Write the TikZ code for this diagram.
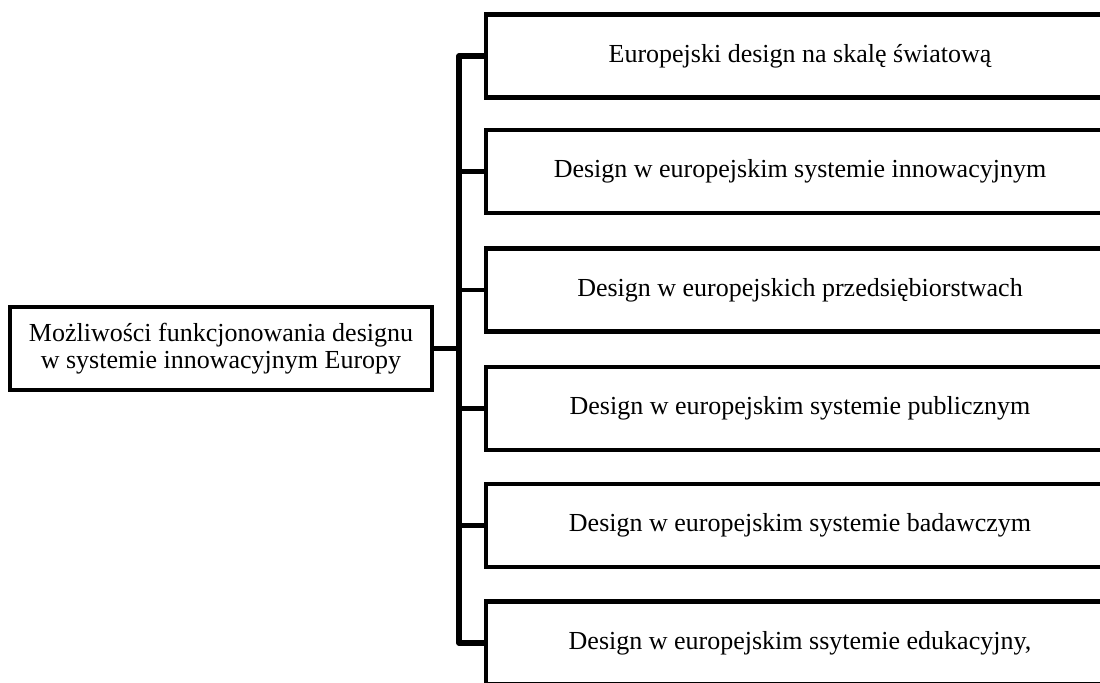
\documentclass[tikz,border=0pt]{standalone}
\usepackage{fontspec}
\setmainfont{Liberation Serif}
\usetikzlibrary{positioning}

\tikzset{
    topic/.style={draw,line width=2.2pt,rectangle,align=center,
        font=\fontsize{13}{13.6}\selectfont,inner sep=0pt},
    branch/.style={topic,minimum width=314pt,minimum height=41.5pt},
    stub/.style={line width=2.2pt},
    bar/.style={line width=2.8pt,line join=round}
}

\begin{document}
\begin{tikzpicture}[x=0.5pt,y=-0.5pt]
    \useasboundingbox (0,0) rectangle (1100,682);
    \clip (0,0) rectangle (1100,682);
    %\draw[help lines] (0,0) grid[step=100] (1100,682);
    \node[topic,minimum width=211pt,minimum height=41.5pt] (main) at (221,348.5)
        {Możliwości funkcjonowania designu\\w systemie innowacyjnym Europy};
    \coordinate (barx) at (459,0);
    \node[branch] (b1) at (800,56) {Europejski design na skalę światową};
    \node[branch] (b2) at (800,171.5) {Design w europejskim systemie innowacyjnym};
    \node[branch] (b3) at (800,290) {Design w europejskich przedsiębiorstwach};
    \node[branch] (b4) at (800,408.5) {Design w europejskim systemie publicznym};
    \node[branch] (b5) at (800,525.5) {Design w europejskim systemie badawczym};
    \node[branch] (b6) at (800,643) {Design w europejskim ssytemie edukacyjny,};
    \draw[bar] (b1.west) -- (barx |- b1.west) -- (barx |- b6.west) -- (b6.west);
    \path (main.east) edge[stub] (barx |- main.east)
        (barx |- b2.west) edge[stub] (b2.west)
        (barx |- b3.west) edge[stub] (b3.west)
        (barx |- b4.west) edge[stub] (b4.west)
        (barx |- b5.west) edge[stub] (b5.west);
\end{tikzpicture}
\end{document}
